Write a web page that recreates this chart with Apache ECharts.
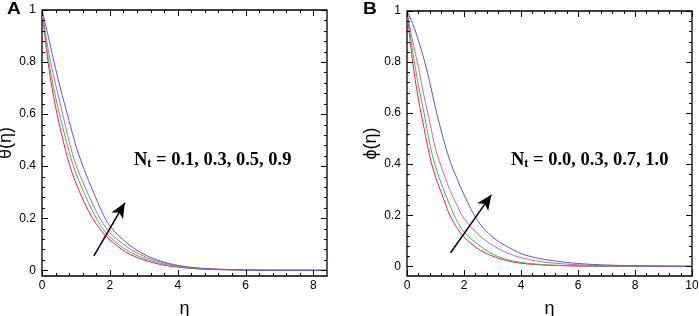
<!DOCTYPE html>
<html><head><meta charset="utf-8">
<script src="https://cdn.jsdelivr.net/npm/echarts@6/dist/echarts.min.js"></script>
<style>html,body{margin:0;padding:0;background:#fff}#c{width:699px;height:316px}</style>
</head><body><div id="c"></div>
<script>
// ---- Panel A: theta(eta) for Nt = 0.1, 0.3, 0.5, 0.9
const etaA = [0,0.2,0.4,0.6,0.8,1.0,1.25,1.5,1.75,2,2.5,3,3.5,4,4.5,5,6,7,8,8.4];
const thetaNt01 = [1,0.78,0.628,0.51,0.41,0.335,0.26,0.198,0.152,0.117,0.068,0.040,0.022,0.012,0.006,0.003,0.001,0,0,0];
const thetaNt03 = [1,0.80,0.665,0.555,0.455,0.372,0.295,0.225,0.168,0.128,0.077,0.046,0.026,0.014,0.007,0.004,0.001,0,0,0];
const thetaNt05 = [1,0.835,0.715,0.605,0.495,0.405,0.325,0.252,0.19,0.145,0.090,0.054,0.031,0.017,0.009,0.005,0.001,0,0,0];
const thetaNt09 = [1,0.89,0.775,0.67,0.575,0.478,0.385,0.305,0.23,0.17,0.105,0.062,0.035,0.019,0.010,0.005,0.001,0,0,0];
// ---- Panel B: phi(eta) for Nt = 0.0, 0.3, 0.7, 1.0
const etaB = [0,0.2,0.4,0.6,0.8,1.0,1.25,1.5,1.75,2,2.5,3,3.5,4,4.5,5,6,7,8,9,10];
const phiNt00 = [1,0.80,0.655,0.54,0.43,0.35,0.275,0.2,0.152,0.115,0.068,0.040,0.022,0.012,0.007,0.004,0.001,0,0,0,0];
const phiNt03 = [1,0.84,0.71,0.60,0.48,0.39,0.31,0.24,0.178,0.135,0.085,0.048,0.027,0.015,0.009,0.005,0.002,0.001,0,0,0];
const phiNt07 = [1,0.88,0.78,0.665,0.565,0.46,0.375,0.30,0.24,0.188,0.125,0.083,0.053,0.034,0.022,0.014,0.006,0.002,0.001,0,0];
const phiNt10 = [1,0.95,0.885,0.81,0.72,0.62,0.51,0.415,0.345,0.28,0.175,0.115,0.078,0.05,0.034,0.024,0.011,0.005,0.002,0.001,0];
// ---- ticks
const yMajor = [0,0.2,0.4,0.6,0.8,1];
const yMinor = [0.04,0.08,0.12,0.16,0.24,0.28,0.32,0.36,0.44,0.48,0.52,0.56,0.64,0.68,0.72,0.76,0.84,0.88,0.92,0.96];
const xMajorA = [0,2,4,6,8];
const xMinorA = [0.4,0.8,1.2,1.6,2.4,2.8,3.2,3.6,4.4,4.8,5.2,5.6,6.4,6.8,7.2,7.6];
const xMajorB = [0,2,4,6,8,10];
const xMinorB = [0.4,0.8,1.2,1.6,2.4,2.8,3.2,3.6,4.4,4.8,5.2,5.6,6.4,6.8,7.2,7.6,8.4,8.8,9.2,9.6];
// arrows (data coordinates) and labels
const arrowA = [[1.53,0.055],[2.44,0.259]];
const arrowB = [[1.53,0.053],[2.96,0.28]];
const labelMain = 'N';
const labelSub = 't';
const labelRestA = ' = 0.1, 0.3, 0.5, 0.9';
const labelRestB = ' = 0.0, 0.3, 0.7, 1.0';
const colors = ['#f5196e','#3dbb3d','#d163a8','#5b5bc8'];

const chart = echarts.init(document.getElementById('c'), null, {renderer:'canvas'});
function axis(dim, grid, min, max, values, name, nameGap){
  return {
    type:'value', gridIndex:grid, min:min, max:max,
    axisLine:{show:false, onZero:false},
    axisTick:{show:false},
    axisLabel:{show:true, customValues:values, color:'#000', fontSize:12, fontFamily:'Liberation Sans', margin:dim==='x'?4:6},
    splitLine:{show:false}, minorTick:{show:false}, minorSplitLine:{show:false},
    name:name, nameLocation:'middle', nameGap:nameGap,
    nameTextStyle:{fontSize:18, fontFamily:'Liberation Sans', color:'#000'}
  };
}
function lineSeries(xs, ys, color, ai, arrow){
  const s = {
    type:'line', xAxisIndex:ai, yAxisIndex:ai, smooth:0.35, showSymbol:false, symbol:'none',
    lineStyle:{color:color, width:1}, itemStyle:{color:color}, silent:true, animation:false,
    data: xs.map((x,i)=>[x, ys[i]])
  };
  if (arrow){
    s.markLine = {silent:true, animation:false, label:{show:false},
      lineStyle:{type:'solid', color:'#000', width:1.5},
      data:[[{coord:arrow[0], symbol:'none'},{coord:arrow[1], symbol:'arrow', symbolSize:[10,15]}]]};
  }
  return s;
}
// inward ticks on all four sides, placed through the axis scales
function tickSeries(ai, values, isX, len){
  return {
    type:'custom', xAxisIndex:ai, yAxisIndex:ai, silent:true, animation:false, clip:false, z:5,
    encode:{x:0, y:1},
    data: values.map(v => isX ? [v, 0] : [0, v]),
    renderItem:function(params, api){
      const cs = params.coordSys;
      const st = {stroke:'#000', lineWidth:1};
      if (isX){
        const x = Math.round(api.coord([api.value(0), 0])[0]) + 0.5;
        const yb = cs.y + cs.height, yt = cs.y;
        return {type:'group', children:[
          {type:'line', shape:{x1:x, y1:yb, x2:x, y2:yb-len}, style:st},
          {type:'line', shape:{x1:x, y1:yt, x2:x, y2:yt+len}, style:st}]};
      }
      const y = Math.round(api.coord([0, api.value(1)])[1]) + 0.5;
      const xl = cs.x, xr = cs.x + cs.width;
      return {type:'group', children:[
        {type:'line', shape:{x1:xl, y1:y, x2:xl+len, y2:y}, style:st},
        {type:'line', shape:{x1:xr, y1:y, x2:xr-len, y2:y}, style:st}]};
    }
  };
}
// measure text widths for the subscript annotation
const mctx = document.createElement('canvas').getContext('2d');
const mainFont = 'bold 18.5px "Liberation Serif"';
const subFont = 'bold 12px "Liberation Serif"';
mctx.font = mainFont; const wN = mctx.measureText(labelMain).width;
mctx.font = subFont; const wt = mctx.measureText(labelSub).width;
function annotation(left, top, rest){
  return [
    {type:'text', left:left, top:top, style:{text:labelMain, font:mainFont, fill:'#000'}},
    {type:'text', left:left+wN, top:top+7, style:{text:labelSub, font:subFont, fill:'#000'}},
    {type:'text', left:left+wN+wt, top:top, style:{text:rest, font:mainFont, fill:'#000'}}
  ];
}
chart.setOption({
  animation:false,
  backgroundColor:'#fff',
  grid:[
    {left:42, top:10, width:285, height:266, show:true, borderColor:'#000', borderWidth:1.3, backgroundColor:'transparent', containLabel:false, outerBoundsMode:'none'},
    {left:407, top:11, width:285, height:265, show:true, borderColor:'#000', borderWidth:1.3, backgroundColor:'transparent', containLabel:false, outerBoundsMode:'none'}
  ],
  xAxis:[axis('x',0,0,8.4,xMajorA,'η',24), axis('x',1,0,10,xMajorB,'η',24)],
  yAxis:[axis('y',0,-0.022,1,yMajor,'θ(η)',17), axis('y',1,-0.038,1,yMajor,'ϕ(η)',17)],
  series:[
    lineSeries(etaA, thetaNt01, colors[0], 0),
    lineSeries(etaA, thetaNt03, colors[1], 0),
    lineSeries(etaA, thetaNt05, colors[2], 0),
    lineSeries(etaA, thetaNt09, colors[3], 0, arrowA),
    lineSeries(etaB, phiNt00, colors[0], 1),
    lineSeries(etaB, phiNt03, colors[1], 1),
    lineSeries(etaB, phiNt07, colors[2], 1),
    lineSeries(etaB, phiNt10, colors[3], 1, arrowB),
    tickSeries(0, xMajorA, true, 6), tickSeries(0, xMinorA, true, 3),
    tickSeries(0, yMajor, false, 6), tickSeries(0, yMinor, false, 3),
    tickSeries(1, xMajorB, true, 6), tickSeries(1, xMinorB, true, 3),
    tickSeries(1, yMajor, false, 6), tickSeries(1, yMinor, false, 3)
  ],
  graphic:[
    {type:'text', left:7, top:2, scaleX:1.2, style:{text:'A', font:'bold 16px "Liberation Sans"', fill:'#000'}},
    {type:'text', left:363, top:2, scaleX:1.2, style:{text:'B', font:'bold 16px "Liberation Sans"', fill:'#000'}}
  ].concat(annotation(134, 151, labelRestA), annotation(511, 151, labelRestB))
});
</script></body></html>
